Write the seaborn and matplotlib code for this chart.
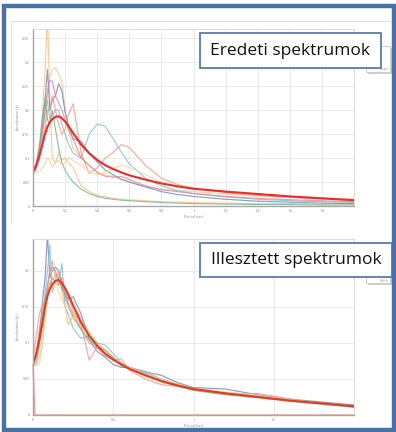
import matplotlib
matplotlib.use("Agg")
import matplotlib.pyplot as plt
from matplotlib.patches import Rectangle
from matplotlib.lines import Line2D
import numpy as np
import pandas as pd
import seaborn as sns

# Periods (sec) at which every spectrum is tabulated
periods = [0, 0.02, 0.04, 0.06, 0.075, 0.09, 0.105, 0.12, 0.14, 0.16, 0.18, 0.2,
           0.22, 0.25, 0.3, 0.35, 0.4, 0.45, 0.5, 0.55, 0.6, 0.7, 0.8, 0.9, 1.0,
           1.2, 1.4, 1.6, 1.8, 2.0]

# Target (design) spectrum, drawn thick in both panels
target = [0.071, 0.085, 0.105, 0.13, 0.15, 0.165, 0.175, 0.181, 0.186, 0.187,
          0.183, 0.176, 0.167, 0.152, 0.128, 0.11, 0.096, 0.085, 0.077, 0.070,
          0.064, 0.055, 0.047, 0.041, 0.036, 0.030, 0.025, 0.020, 0.016, 0.012]

# Original record spectra (acceleration, g)
orig_a = [0.068, 0.075, 0.12, 0.2, 0.28, 0.40, 0.22, 0.1, 0.09, 0.11, 0.095, 0.1,
          0.09, 0.08, 0.042, 0.03, 0.022, 0.019, 0.016, 0.014, 0.013, 0.011,
          0.009, 0.008, 0.007, 0.006, 0.005, 0.005, 0.004, 0.004]
orig_b = [0.07, 0.08, 0.1, 0.13, 0.17, 0.23, 0.27, 0.285, 0.288, 0.275, 0.26, 0.2,
          0.16, 0.12, 0.1, 0.085, 0.07, 0.065, 0.062, 0.055, 0.05, 0.04, 0.035,
          0.032, 0.03, 0.025, 0.021, 0.018, 0.015, 0.013]
orig_c = [0.072, 0.08, 0.12, 0.17, 0.22, 0.285, 0.2, 0.22, 0.23, 0.255, 0.24,
          0.195, 0.17, 0.14, 0.135, 0.11, 0.092, 0.075, 0.065, 0.056, 0.05, 0.04,
          0.03, 0.024, 0.02, 0.014, 0.01, 0.008, 0.006, 0.005]
orig_d = [0.07, 0.075, 0.1, 0.15, 0.2, 0.22, 0.18, 0.19, 0.2, 0.2, 0.17, 0.15,
          0.13, 0.11, 0.1, 0.15, 0.171, 0.166, 0.14, 0.112, 0.088, 0.058, 0.042,
          0.032, 0.026, 0.019, 0.014, 0.011, 0.009, 0.007]
orig_e = [0.07, 0.09, 0.13, 0.14, 0.16, 0.2, 0.2, 0.23, 0.2, 0.17, 0.15, 0.16,
          0.19, 0.213, 0.11, 0.068, 0.08, 0.1, 0.112, 0.128, 0.122, 0.085, 0.058,
          0.045, 0.037, 0.028, 0.022, 0.018, 0.015, 0.012]
orig_f = [0.072, 0.085, 0.11, 0.16, 0.2, 0.24, 0.262, 0.26, 0.23, 0.215, 0.2,
          0.18, 0.16, 0.14, 0.1, 0.085, 0.07, 0.062, 0.06, 0.062, 0.055, 0.042,
          0.034, 0.03, 0.026, 0.02, 0.016, 0.013, 0.011, 0.009]
orig_g = [0.07, 0.08, 0.12, 0.19, 0.226, 0.18, 0.17, 0.2, 0.16, 0.12, 0.09, 0.075,
          0.063, 0.05, 0.035, 0.026, 0.02, 0.016, 0.014, 0.012, 0.011, 0.009,
          0.007, 0.006, 0.005, 0.004, 0.003, 0.003, 0.002, 0.002]
orig_h = [0.065, 0.07, 0.072, 0.08, 0.09, 0.1, 0.095, 0.08, 0.09, 0.095, 0.085,
          0.09, 0.1, 0.095, 0.085, 0.07, 0.065, 0.07, 0.078, 0.085, 0.08, 0.065,
          0.05, 0.042, 0.038, 0.03, 0.025, 0.02, 0.017, 0.015]

# Spectrally matched records
fit_a = [0.068, 0.07, 0.08, 0.1, 0.14, 0.17, 0.185, 0.18, 0.19, 0.195, 0.17, 0.15,
         0.125, 0.14, 0.125, 0.11, 0.098, 0.09, 0.08, 0.072, 0.066, 0.058, 0.048,
         0.042, 0.037, 0.031, 0.026, 0.021, 0.016, 0.012]
fit_b = [0.07, 0.075, 0.09, 0.12, 0.15, 0.17, 0.18, 0.19, 0.195, 0.19, 0.175,
         0.16, 0.155, 0.15, 0.135, 0.115, 0.1, 0.09, 0.078, 0.072, 0.066, 0.056,
         0.049, 0.043, 0.038, 0.031, 0.026, 0.021, 0.017, 0.013]
fit_c = [0.073, 0.08, 0.11, 0.16, 0.19, 0.25, 0.19, 0.2, 0.205, 0.2, 0.175, 0.17,
         0.16, 0.164, 0.14, 0.105, 0.088, 0.08, 0.07, 0.066, 0.066, 0.06, 0.055,
         0.045, 0.038, 0.036, 0.028, 0.022, 0.018, 0.014]
fit_d = [0.072, 0.07, 0.1, 0.14, 0.17, 0.2, 0.236, 0.17, 0.185, 0.18, 0.21, 0.15,
         0.14, 0.12, 0.106, 0.11, 0.1, 0.097, 0.085, 0.072, 0.065, 0.06, 0.05,
         0.043, 0.035, 0.029, 0.025, 0.02, 0.016, 0.011]
fit_e = [0.075, 0.11, 0.14, 0.155, 0.157, 0.175, 0.2, 0.214, 0.19, 0.2, 0.185,
         0.17, 0.165, 0.145, 0.125, 0.076, 0.095, 0.085, 0.075, 0.078, 0.062,
         0.05, 0.042, 0.04, 0.035, 0.029, 0.03, 0.022, 0.016, 0.012]
fit_f = [0.07, 0.085, 0.12, 0.14, 0.16, 0.18, 0.2, 0.205, 0.2, 0.18, 0.19, 0.17,
         0.155, 0.14, 0.12, 0.1, 0.093, 0.082, 0.076, 0.07, 0.065, 0.055, 0.046,
         0.04, 0.036, 0.03, 0.025, 0.02, 0.016, 0.012]
fit_g = [0.07, 0.08, 0.1, 0.13, 0.16, 0.17, 0.18, 0.19, 0.185, 0.19, 0.18, 0.165,
         0.15, 0.135, 0.118, 0.105, 0.095, 0.09, 0.08, 0.068, 0.064, 0.058,
         0.048, 0.04, 0.034, 0.028, 0.024, 0.019, 0.015, 0.011]
fit_h = [0.069, 0.069, 0.07, 0.1, 0.13, 0.165, 0.18, 0.175, 0.185, 0.17, 0.16,
         0.15, 0.125, 0.135, 0.13, 0.112, 0.095, 0.088, 0.078, 0.07, 0.066, 0.057,
         0.049, 0.043, 0.037, 0.032, 0.027, 0.021, 0.016, 0.012]

# One matched record that drops to zero right after the start
drop_periods = [0, 0.012, 2.0]
drop_values = [0.07, 0.0, 0.0]

record_names = ["A", "B", "C", "D", "E", "F", "G", "H"]
record_colors = {"A": "#fcbf82", "B": "#f8c596", "C": "#7285bd", "D": "#85bfcf",
                 "E": "#f29a85", "F": "#d98893", "G": "#74b495", "H": "#f5d592"}

original = [orig_a, orig_b, orig_c, orig_d, orig_e, orig_f, orig_g, orig_h]
fitted = [fit_a, fit_b, fit_c, fit_d, fit_e, fit_f, fit_g, fit_h]


def long_table(series):
    rows = []
    for name, vals in zip(record_names, series):
        for p, v in zip(periods, vals):
            rows.append({"period": p, "acc": v, "record": name})
    return pd.DataFrame(rows)


sns.set_style("white")
plt.rcParams["font.family"] = ["Open Sans", "DejaVu Sans"]

W, H = 396, 432
fig = plt.figure(figsize=(W / 100, H / 100), dpi=100)
fig.patch.set_facecolor("white")


def fx(px):
    return px / W


def fy(py):
    return 1 - py / H


def style_axes(ax, xticks, yticks, ylim):
    ax.set_xlim(0, 2.0)
    ax.set_ylim(0, ylim)
    ax.set_xticks(xticks)
    ax.set_yticks(yticks)
    ax.set_xticklabels([f"{t:g}" for t in xticks])
    ax.set_yticklabels([f"{t:g}" for t in yticks])
    ax.grid(True, color="#e6e6e6", linewidth=0.6)
    ax.set_axisbelow(True)
    ax.tick_params(labelsize=2.6, colors="#888888", length=1.5, width=0.4, pad=1)
    for side in ("top", "right"):
        ax.spines[side].set_color("#dcdcdc")
        ax.spines[side].set_linewidth(0.7)
    for side in ("left", "bottom"):
        ax.spines[side].set_color("#a8a8a8")
        ax.spines[side].set_linewidth(1.0)
    ax.set_xlabel("Period (sec)", fontsize=2.6, color="#888888", labelpad=1)
    ax.set_ylabel("Acceleration (g)", fontsize=2.6, color="#888888", labelpad=2)


# Upper panel: original spectra
ax1 = fig.add_axes([fx(33), fy(206), fx(321), (206 - 29) / H])
sns.lineplot(data=long_table(original), x="period", y="acc", hue="record",
             palette=record_colors, linewidth=0.85, alpha=0.8, legend=False,
             estimator=None, sort=False, ax=ax1)
sns.lineplot(x=periods, y=target, color="#ec2b2b", linewidth=1.5, ax=ax1)
style_axes(ax1, [0, 0.2, 0.4, 0.6, 0.8, 1.0, 1.2, 1.4, 1.6, 1.8],
           [0, 0.05, 0.1, 0.15, 0.2, 0.25, 0.3, 0.35], 0.369)

# Lower panel: matched spectra
ax2 = fig.add_axes([fx(33), fy(415), fx(321), (415 - 239) / H])
sns.lineplot(data=long_table(fitted), x="period", y="acc", hue="record",
             palette=record_colors, linewidth=0.85, alpha=0.8, legend=False,
             estimator=None, sort=False, ax=ax2)
sns.lineplot(x=drop_periods, y=drop_values, color="#eba0a0", linewidth=1.0,
             ax=ax2, clip_on=False)
sns.lineplot(x=periods, y=target, color="#ea3a1a", linewidth=1.5, ax=ax2)
style_axes(ax2, [0, 0.5, 1.0, 1.5], [0, 0.05, 0.1, 0.15, 0.2], 0.244)

# Light frame around the upper chart image
fig.add_artist(Line2D([fx(11), fx(390)], [fy(21), fy(21)], color="#e0e0e0",
                      linewidth=0.8, transform=fig.transFigure))
fig.add_artist(Line2D([fx(11), fx(11)], [fy(21), fy(222)], color="#e0e0e0",
                      linewidth=0.8, transform=fig.transFigure))


def rect_px(x0, y0, x1, y1, **kw):
    r = Rectangle((fx(x0), fy(y1)), (x1 - x0) / W, (y1 - y0) / H,
                  transform=fig.transFigure, **kw)
    fig.add_artist(r)
    return r


# Small chart legends peeking out from behind the captions
rect_px(368, 48, 392, 74, facecolor="#cfcfcf", edgecolor="none", zorder=5)
rect_px(366, 46, 390, 72, facecolor="white", edgecolor="#c8c8c8",
        linewidth=0.6, zorder=6)
rect_px(368, 272, 392, 285, facecolor="#cfcfcf", edgecolor="none", zorder=5)
rect_px(366, 270, 390, 283, facecolor="white", edgecolor="#c8c8c8",
        linewidth=0.6, zorder=6)
fig.text(fx(384), fy(69), "Target", fontsize=2.2, color="#999999",
         ha="center", va="center", zorder=7)
fig.text(fx(384), fy(280.5), "Match", fontsize=2.2, color="#999999",
         ha="center", va="center", zorder=7)

# Caption boxes
rect_px(200, 33, 381, 68, facecolor="white", edgecolor="#5a7cac",
        linewidth=1.3, zorder=10)
fig.text(fx(290.5), fy(51), "Eredeti spektrumok", fontsize=12.5, color="#111111",
         ha="center", va="center", zorder=11)
rect_px(200, 243, 392, 277, facecolor="white", edgecolor="#5a7cac",
        linewidth=1.3, zorder=10)
fig.text(fx(296), fy(260.5), "Illesztett spektrumok", fontsize=12.5,
         color="#111111", ha="center", va="center", zorder=11)

# Outer slide frame
rect_px(4, 6, 394, 429.5, facecolor="none", edgecolor="#4a71a3",
        linewidth=3.2, zorder=12)

fig.savefig("out.png", dpi=100)
